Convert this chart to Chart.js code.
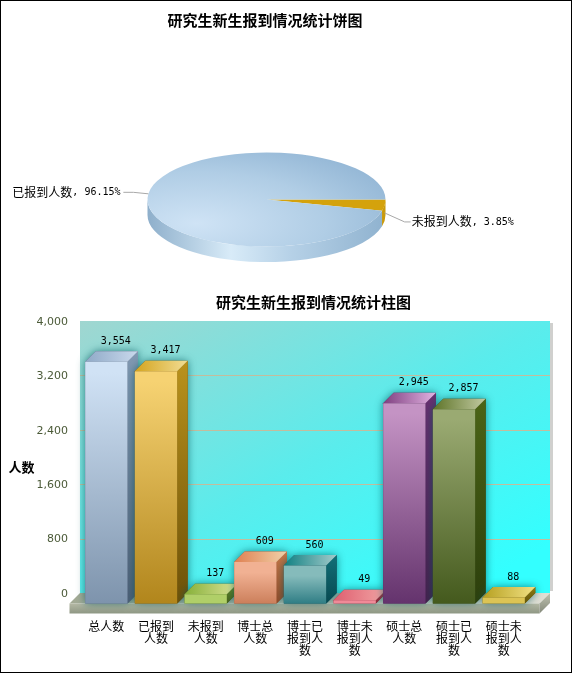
<!DOCTYPE html>
<html>
<head>
<meta charset="utf-8">
<title>研究生新生报到情况统计</title>
<script src="https://cdn.jsdelivr.net/npm/chart.js@4"></script>
<style>
html, body { margin: 0; padding: 0; background: #fff; overflow: hidden; }
#page { position: relative; width: 572px; height: 673px; }
#page canvas { position: absolute; left: 0; top: 0; }
#frame { position: absolute; left: 0; top: 0; width: 570px; height: 671px; border: 1px solid #000; }
</style>
</head>
<body>
<div id="page">
  <canvas id="barChart" width="572" height="673"></canvas>
  <canvas id="pieChart" width="572" height="320"></canvas>
  <div id="frame"></div>
</div>
<script>
const pieTitle = '研究生新生报到情况统计饼图';
const pieNames = ['未报到人数', '已报到人数'];
const pieValues = [137, 3417];

const barTitle = '研究生新生报到情况统计柱图';
const yTitle = '人数';
const categories = ['总人数', '已报到人数', '未报到人数', '博士总人数', '博士已报到人数', '博士未报到人数', '硕士总人数', '硕士已报到人数', '硕士未报到人数'];
const values = [3554, 3417, 137, 609, 560, 49, 2945, 2857, 88];

// front top, front bottom, side top, side bottom, top left, top right
const barColors = [
    ['#d0e2f5', '#7a90a9', '#8199b3', '#4d5e75', '#8fa9c7', '#c9d9ec'],
    ['#f6d272', '#ae8218', '#ba921c', '#6c5008', '#d4a41e', '#f1dd94'],
    ['#b0cf68', '#6c9830', '#6a8c28', '#44601a', '#86b038', '#dbe398'],
    ['#f1b193', '#bf6e48', '#c87848', '#8f4a28', '#df7f50', '#f1d2aa'],
    ['#85bbbb', '#0f6670', '#127078', '#084850', '#0f8082', '#a4cbcb'],
    ['#f08a98', '#d04252', '#b03848', '#8a2838', '#df5f70', '#f1a4a4'],
    ['#c493c4', '#5f2e68', '#672f70', '#43204c', '#7f3f80', '#e2b3e2'],
    ['#9aaa72', '#3f5518', '#4c6416', '#2c3f0c', '#5e7428', '#c2caa2'],
    ['#dcc454', '#a68e18', '#8d7a12', '#63560a', '#b6a020', '#f1e184']
];

const depth = 10.5;      // 3d offset of the bars
const rimHeight = 15.5;  // thickness of the pie
const squash = 47 / 119;

function wrapLabel(text) {
    const lines = [];
    for (let i = 0; i < text.length; i += 3) lines.push(text.slice(i, i + 3));
    return lines;
}

function poly(ctx, pts, fill) {
    ctx.beginPath();
    pts.forEach((p, i) => i ? ctx.lineTo(p[0], p[1]) : ctx.moveTo(p[0], p[1]));
    ctx.closePath();
    ctx.fillStyle = fill;
    ctx.fill();
}

function hGrad(ctx, x0, x1, a, b) {
    const g = ctx.createLinearGradient(x0, 0, x1, 0);
    g.addColorStop(0, a);
    g.addColorStop(1, b);
    return g;
}

function vGrad(ctx, y0, y1, a, b) {
    const g = ctx.createLinearGradient(0, y0, 0, y1);
    g.addColorStop(0, a);
    g.addColorStop(1, b);
    return g;
}

// ---- bar chart ----

const wallLeft = 80, wallRight = 550;

const stagePlugin = {
    id: 'stage',
    beforeDatasetsDraw(chart) {
        const ctx = chart.ctx;
        const top = chart.chartArea.top, bottom = chart.chartArea.bottom;
        const y = chart.scales.y;
        ctx.save();

        // grey edge right of the wall
        ctx.fillStyle = '#d0d0ce';
        ctx.fillRect(wallRight, top + 2, 3, bottom - top - 4);

        // back wall
        const wall = ctx.createLinearGradient(wallLeft, top, wallLeft + 215, top + 371);
        wall.addColorStop(0, '#a0d6d0');
        wall.addColorStop(0.55, '#5aecec');
        wall.addColorStop(1, '#33ffff');
        ctx.fillStyle = wall;
        ctx.fillRect(wallLeft, top, wallRight - wallLeft, bottom - top);

        // grid lines on the wall
        ctx.strokeStyle = '#c4bc9c';
        ctx.lineWidth = 1;
        y.ticks.forEach(t => {
            if (t.value === y.min || t.value === y.max) return;
            const py = Math.round(y.getPixelForValue(t.value)) + 0.5;
            ctx.beginPath();
            ctx.moveTo(wallLeft, py);
            ctx.lineTo(wallRight, py);
            ctx.stroke();
        });

        // floor
        const fl = wallLeft - depth, fr = wallRight - depth, fy = bottom + depth, fb = fy + 10;
        poly(ctx, [[wallLeft, bottom], [wallRight, bottom], [fr, fy], [fl, fy]], hGrad(ctx, fl, wallRight, '#a2a994', '#e0dfd4'));
        poly(ctx, [[fl, fy], [fr, fy], [fr, fb], [fl, fb]], vGrad(ctx, fy, fb, '#b4b8a4', '#8f9784'));
        poly(ctx, [[fr, fy], [wallRight, bottom], [wallRight, bottom + 10], [fr, fb]], vGrad(ctx, bottom, fb, '#bfc2b0', '#84897a'));

        // side and top faces, the fronts come from the library on top of these
        const bars = chart.getDatasetMeta(0).data;
        bars.forEach((bar, i) => {
            const c = barColors[i];
            const l = bar.x - bar.width / 2, r = bar.x + bar.width / 2;
            const silhouette = [[l - depth, bar.y + depth], [l, bar.y], [r, bar.y], [r, bar.base], [r - depth, bar.base + depth], [l - depth, bar.base + depth]];
            ctx.save();
            ctx.shadowColor = 'rgba(0, 85, 90, 0.7)';
            ctx.shadowBlur = 9;
            poly(ctx, silhouette, c[3]);
            ctx.restore();
            poly(ctx, [[r - depth, bar.y + depth], [r, bar.y], [r, bar.base], [r - depth, bar.base + depth]], vGrad(ctx, bar.y, bar.base + depth, c[2], c[3]));
            poly(ctx, [[l - depth, bar.y + depth], [r - depth, bar.y + depth], [r, bar.y], [l, bar.y]], hGrad(ctx, l - depth, r, c[4], c[5]));
        });
        ctx.restore();
    },
    beforeDatasetDraw(chart) {
        chart.ctx.save();
        chart.ctx.translate(-depth, depth);
    },
    afterDatasetDraw(chart) {
        chart.ctx.restore();
    },
    afterDatasetsDraw(chart) {
        const ctx = chart.ctx;
        ctx.save();
        ctx.textAlign = 'center';
        ctx.textBaseline = 'middle';
        ctx.fillStyle = '#000';
        ctx.font = '10px "DejaVu Sans Mono"';
        chart.getDatasetMeta(0).data.forEach((bar, i) => {
            ctx.fillText(values[i].toLocaleString('en-US'), bar.x - 1, bar.y - 10);
        });
        ctx.font = 'bold 15px "Noto Sans CJK SC"';
        ctx.fillText(barTitle, 313.5, 302);
        ctx.font = 'bold 13px "Noto Sans CJK SC"';
        ctx.fillText(yTitle, 21.5, 467);
        ctx.restore();
    }
};

new Chart(document.getElementById('barChart'), {
    type: 'bar',
    data: {
        labels: categories.map(wrapLabel),
        datasets: [{
            data: values,
            clip: false,
            borderWidth: 0,
            barPercentage: 0.852,
            categoryPercentage: 1,
            backgroundColor(c) {
                if (!c.chart.chartArea || c.dataIndex === undefined) return '#888';
                const y = c.chart.scales.y;
                const top = y.getPixelForValue(values[c.dataIndex]) + depth;
                const base = y.getPixelForValue(0) + depth;
                return vGrad(c.chart.ctx, top, base, barColors[c.dataIndex][0], barColors[c.dataIndex][1]);
            }
        }]
    },
    options: {
        responsive: false,
        animation: false,
        layout: { padding: { top: 321, right: 33, left: 0, bottom: 0 } },
        plugins: { legend: { display: false }, tooltip: { enabled: false } },
        scales: {
            x: {
                afterFit(scale) { scale.height = 80; },
                grid: { display: false },
                border: { display: false },
                ticks: {
                    autoSkip: false,
                    maxRotation: 0,
                    padding: 19,
                    labelOffset: -depth,
                    color: '#000',
                    font: { family: '"Noto Sans CJK SC"', size: 12, lineHeight: 1.03 }
                }
            },
            y: {
                min: 0,
                max: 4000,
                afterFit(scale) { scale.width = 92; },
                grid: { display: false },
                border: { display: false },
                ticks: {
                    stepSize: 800,
                    padding: 16,
                    labelOffset: 1,
                    color: '#4b5a38',
                    font: { family: '"DejaVu Sans"', size: 11 }
                }
            }
        }
    },
    plugins: [stagePlugin]
});

// ---- pie chart ----

const piePlugin = {
    id: 'flatPie',
    beforeDatasetsDraw(chart) {
        const ctx = chart.ctx;
        const arcs = chart.getDatasetMeta(0).data;
        const cx = arcs[0].x, cy = arcs[0].y, rx = arcs[0].outerRadius, ry = rx * squash;

        // rim, only the front half of the pie shows it
        ctx.save();
        const rim = ctx.createLinearGradient(cx - rx, 0, cx + rx, 0);
        rim.addColorStop(0, '#8eafcb');
        rim.addColorStop(0.35, '#d8ebf8');
        rim.addColorStop(0.6, '#b6d1e7');
        rim.addColorStop(1, '#8fb2cf');
        arcs.forEach((arc, i) => {
            const a1 = Math.max(arc.startAngle, 0), a2 = Math.min(arc.endAngle, Math.PI);
            if (a2 <= a1) return;
            ctx.beginPath();
            ctx.ellipse(cx, cy + rimHeight, rx, ry, 0, a1, a2);
            ctx.ellipse(cx, cy, rx, ry, 0, a2, a1, true);
            ctx.closePath();
            ctx.fillStyle = i === 0 ? '#c99a0c' : rim;
            ctx.fill();
        });
        ctx.restore();

        ctx.save();
        ctx.translate(cx, cy);
        ctx.scale(1, squash);
        ctx.translate(-cx, -cy);
    },
    afterDatasetsDraw(chart) {
        const ctx = chart.ctx;
        ctx.restore();

        const arcs = chart.getDatasetMeta(0).data;
        const total = pieValues.reduce((a, b) => a + b, 0);
        ctx.save();
        ctx.textBaseline = 'middle';
        ctx.textAlign = 'left';
        arcs.forEach((arc, i) => {
            const mid = (arc.startAngle + arc.endAngle) / 2;
            const right = Math.cos(mid) > 0;
            const px = arc.x + arc.outerRadius * Math.cos(mid);
            const py = arc.y + arc.outerRadius * squash * Math.sin(mid) + (Math.sin(mid) > 0 ? rimHeight / 2 : 0);
            const ex = px + (right ? 20 : -15), ey = py + (right ? 9 : -1.5);
            const tx = ex + (right ? 6 : -3);

            ctx.strokeStyle = '#a8a8a8';
            ctx.lineWidth = 1;
            ctx.beginPath();
            ctx.moveTo(px, py);
            ctx.lineTo(ex, ey);
            ctx.lineTo(ex + (right ? 6 : -10), ey);
            ctx.stroke();

            const pct = ', ' + (pieValues[i] / total * 100).toFixed(2) + '%';
            const x0 = right ? tx + 1 : tx - 10 - 108 + 0;
            ctx.fillStyle = '#000';
            ctx.font = '12px "Noto Sans CJK SC"';
            ctx.fillText(pieNames[i], x0, ey);
            ctx.font = '10px "DejaVu Sans Mono"';
            ctx.fillText(pct, x0 + 60, ey);
        });
        ctx.textAlign = 'center';
        ctx.font = 'bold 15px "Noto Sans CJK SC"';
        ctx.fillStyle = '#000';
        ctx.fillText(pieTitle, 265, 20);
        ctx.restore();
    }
};

new Chart(document.getElementById('pieChart'), {
    type: 'pie',
    data: {
        labels: pieNames,
        datasets: [{
            data: pieValues,
            borderWidth: 0,
            backgroundColor(c) {
                if (c.dataIndex === 0) return '#d4a20c';
                const area = c.chart.chartArea;
                if (!area) return '#a6c6df';
                const cx = (area.left + area.right) / 2, cy = (area.top + area.bottom) / 2;
                // gradient is in unsquashed pie space
                const g = c.chart.ctx.createRadialGradient(cx - 70, cy + 60, 0, cx - 70, cy + 60, 260);
                g.addColorStop(0, '#cfe3f5');
                g.addColorStop(0.5, '#b0cde5');
                g.addColorStop(1, '#86acce');
                return g;
            }
        }]
    },
    options: {
        responsive: false,
        animation: false,
        rotation: 90,
        layout: { padding: { left: 147.5, right: 186.5, top: 80.5, bottom: 1.5 } },
        plugins: { legend: { display: false }, tooltip: { enabled: false } }
    },
    plugins: [piePlugin]
});
</script>
</body>
</html>
